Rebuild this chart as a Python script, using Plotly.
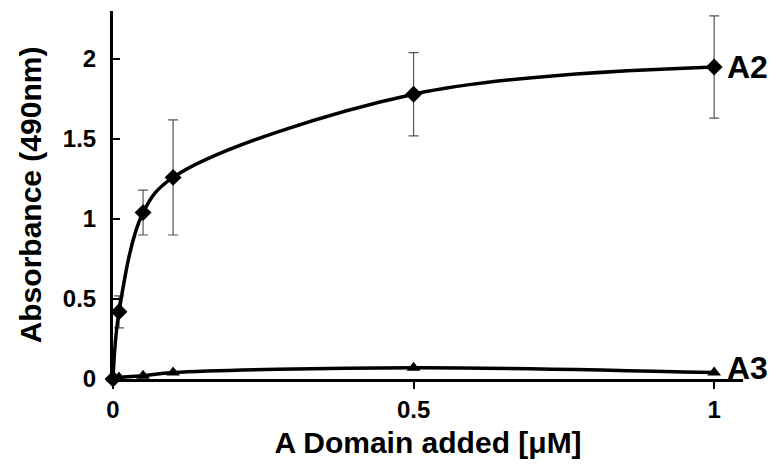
import plotly.graph_objects as go

x_vals = [0, 0.01, 0.05, 0.1, 0.5, 1.0]
a2_vals = [0.0, 0.42, 1.04, 1.26, 1.78, 1.95]
a2_err = [0.0, 0.1, 0.14, 0.36, 0.26, 0.32]
a3_vals = [0.0, 0.01, 0.02, 0.04, 0.07, 0.04]
x_ticks = [0, 0.5, 1]
x_tick_labels = ["0", "0.5", "1"]
y_ticks = [0, 0.5, 1, 1.5, 2]
y_tick_labels = ["0", "0.5", "1", "1.5", "2"]

FONT = "Liberation Sans, Arial, sans-serif"

fig = go.Figure()
fig.add_trace(go.Scatter(
    x=x_vals, y=a2_vals, mode="lines+markers", name="A2",
    line=dict(color="black", width=3.5, shape="spline", smoothing=1),
    marker=dict(symbol="diamond", size=13, color="black"),
    error_y=dict(type="data", array=a2_err, visible=True, color="#555555", thickness=1.2, width=5),
    cliponaxis=False,
))
fig.add_trace(go.Scatter(
    x=x_vals, y=a3_vals, mode="lines+markers", name="A3",
    line=dict(color="black", width=3.5, shape="spline", smoothing=1),
    marker=dict(symbol="triangle-up", size=12, color="black"),
    cliponaxis=False,
))

fig.add_annotation(x=1.0, y=a2_vals[-1], text="<b>A2</b>", showarrow=False,
                   xanchor="left", xshift=11, font=dict(family=FONT, size=32, color="black"))
fig.add_annotation(x=1.0, y=a3_vals[-1], text="<b>A3</b>", showarrow=False,
                   xanchor="left", xshift=11, yshift=5, font=dict(family=FONT, size=32, color="black"))

# the page body adds an 8px offset, so margins compensate
fig.update_layout(
    width=779, height=466,
    margin=dict(l=105, r=44, t=3, b=95),
    paper_bgcolor="white", plot_bgcolor="white",
    showlegend=False,
    font=dict(family=FONT, color="black"),
)
fig.update_xaxes(
    range=[0, 1.048], tickvals=x_ticks, ticktext=["<b>%s</b>" % t for t in x_tick_labels],
    showgrid=False, zeroline=False, showline=True, linecolor="black", linewidth=3,
    ticks="outside", ticklen=7, tickwidth=2, tickcolor="black", automargin=False,
    tickfont=dict(family=FONT, size=24, color="black"), ticklabelstandoff=0,
    title=dict(text="<b>A Domain added [\u03bcM]</b>", font=dict(family=FONT, size=30, color="black"), standoff=11),
)
fig.update_yaxes(
    range=[0, 2.3], tickvals=y_ticks, ticktext=["<b>%s</b>" % t for t in y_tick_labels],
    showgrid=False, zeroline=False, showline=True, linecolor="black", linewidth=3,
    ticks="inside", ticklen=7, tickwidth=2, tickcolor="black", automargin=False,
    tickfont=dict(family=FONT, size=24, color="black"), ticklabelstandoff=9,
    title=dict(text="<b>Absorbance (490nm)</b>", font=dict(family=FONT, size=30, color="black"), standoff=13),
)

fig.write_html("out.html")
